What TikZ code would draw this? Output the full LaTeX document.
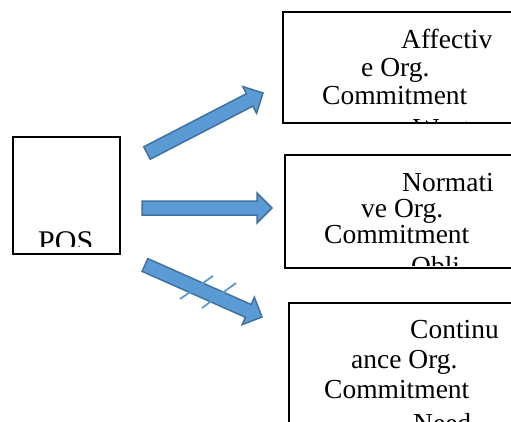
\documentclass[tikz,border=0pt]{standalone}
\usepackage{fontspec}
\setmainfont{Liberation Serif}
\usepackage{xcolor}
\usepackage{tikz}
\usetikzlibrary{calc}

\definecolor{arrowfill}{HTML}{5B9BD5}
\definecolor{arrowedge}{HTML}{41719C}

\begin{document}
\begin{tikzpicture}[x=1pt, y=-1pt,
  box/.style={draw=black, line width=1.5pt},
  txt/.style={anchor=base west, inner sep=0pt, font=\fontsize{27.5}{30}\selectfont},
  blockarrow/.style={fill=arrowfill, draw=arrowedge, line width=1.5pt, line join=miter},
  strike/.style={draw=arrowfill, line width=1.8pt}]
  \useasboundingbox (0,0) rectangle (511,421);

  % boxes
  \draw[box] (13,137) rectangle (120,254);
  \draw[box] (283,12) rectangle (540,123);
  \draw[box] (285,155) rectangle (540,268);
  \draw[box] (289,303) rectangle (540,450);

  % texts, cut off by their boxes
  \begin{scope}
    \clip (14,138) rectangle (119,246);
    \node[txt, font=\fontsize{30}{33}\selectfont] (pos) at (38,251) {POS};
  \end{scope}
  \begin{scope}
    \clip (284,13) rectangle (511,121);
    \node[txt] (aff1) at (401,48) {Affectiv};
    \node[txt] (aff2) at (361,76) {e Org.};
    \node[txt] (aff3) at (322,104) {Commitment};
    \node[txt] (aff4) at (413,137) {Want};
  \end{scope}
  \begin{scope}
    \clip (286,156) rectangle (511,265);
    \node[txt] (nor1) at (402,191) {Normati};
    \node[txt] (nor2) at (361,217) {ve Org.};
    \node[txt] (nor3) at (324,243) {Commitment};
    \node[txt] (nor4) at (411,275) {Obli};
  \end{scope}
  \begin{scope}
    \clip (290,304) rectangle (511,421);
    \node[txt] (con1) at (410,338) {Continu};
    \node[txt] (con2) at (351,368) {ance Org.};
    \node[txt] (con3) at (324,398) {Commitment};
    \node[txt] (con4) at (413,432) {Need};
  \end{scope}

  % block arrows
  \coordinate (tail1) at (147,153); \coordinate (tip1) at (263,93);
  \coordinate (tail2) at (142,208); \coordinate (tip2) at (272,208);
  \coordinate (tail3) at (145,265); \coordinate (tip3) at (262,317);
  \foreach \n in {1,2,3} {
    \coordinate (neck\n) at ($(tip\n)!15pt!(tail\n)$);
    \draw[blockarrow] ($(tail\n)!7pt!90:(tip\n)$) -- ($(neck\n)!7pt!90:(tip\n)$)
      -- ($(neck\n)!15pt!90:(tip\n)$) -- (tip\n) -- ($(neck\n)!15pt!-90:(tip\n)$)
      -- ($(neck\n)!7pt!-90:(tip\n)$) -- ($(tail\n)!7pt!-90:(tip\n)$) -- cycle;
  }

  % the crossed-out link
  \draw[strike] (180,299) -- (213,276);
  \draw[strike] (202,308) -- (236,283);
\end{tikzpicture}
\end{document}
